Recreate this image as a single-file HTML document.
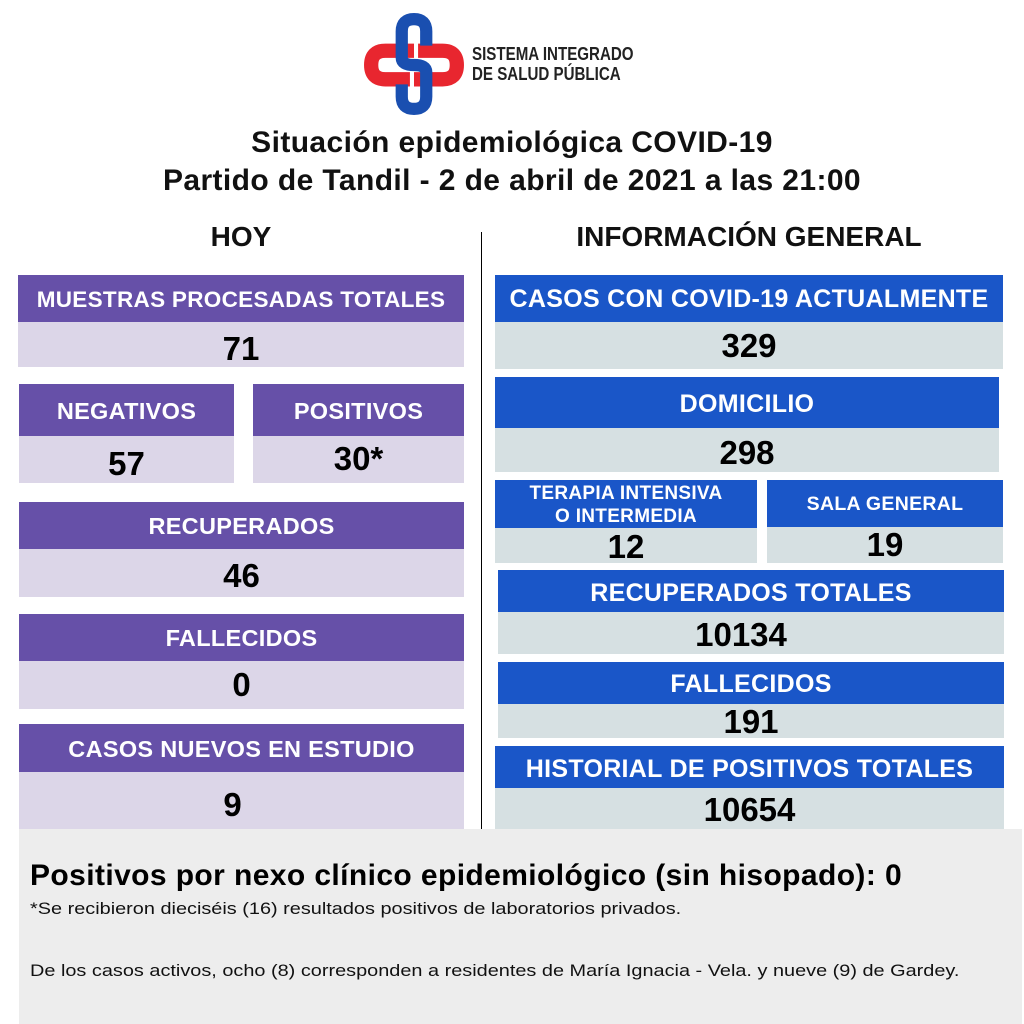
<!DOCTYPE html>
<html><head><meta charset="utf-8"><style>
body{margin:0;width:1024px;height:1024px;background:#fff;position:relative;overflow:hidden;font-family:"Liberation Sans",Arial,sans-serif;}
.a{position:absolute;box-sizing:border-box;text-align:center;font-weight:bold;white-space:nowrap;}
.ph{background:#6650a8;color:#fff;font-size:23.5px;letter-spacing:0.3px;}
.pv{background:#dcd6e8;color:#000;font-size:33px;}
.bh{background:#1a56c8;color:#fff;font-size:25px;letter-spacing:0.3px;}
.bv{background:#d6e0e2;color:#000;font-size:33px;}
.t{position:absolute;font-weight:bold;color:#111;white-space:nowrap;}
</style></head><body>
<svg style="position:absolute;left:362px;top:13px" width="104" height="102" viewBox="0 0 100 100">
<path d="M50 37 L22 37 Q8 37 8 51 Q8 65 22 65 L46 65" fill="none" stroke="#e8262f" stroke-width="14"/>
<path d="M50 65 L78 65 Q92 65 92 51 Q92 37 78 37 L54 37" fill="none" stroke="#e8262f" stroke-width="14"/>
<path d="M62 32 L62 18 Q62 6 50 6 Q38 6 38 18 L38 44 Q38 51 50 51 Q62 51 62 58 L62 82 Q62 94 50 94 Q38 94 38 82 L38 70" fill="none" stroke="#1a4fb0" stroke-width="12"/>
</svg>
<div class="t" style="left:472px;top:44px;font-size:18px;line-height:20px;color:#222;transform:scaleX(0.84);transform-origin:left top">SISTEMA INTEGRADO<br>DE SALUD PÚBLICA</div>
<div class="t" style="left:0;width:1024px;text-align:center;top:124px;font-size:30px;line-height:38px;letter-spacing:0.4px">Situación epidemiológica COVID-19<br>Partido de Tandil - 2 de abril de 2021 a las 21:00</div>
<div class="t" style="left:18px;width:446px;text-align:center;top:221px;font-size:28px">HOY</div>
<div class="t" style="left:495px;width:508px;text-align:center;top:221px;font-size:28px">INFORMACIÓN GENERAL</div>
<div style="position:absolute;left:481px;top:232px;width:1px;height:598px;background:#000"></div>

<div class="a ph" style="left:18px;top:275px;width:446px;height:47px;line-height:50px;font-size:22.5px">MUESTRAS PROCESADAS TOTALES</div>
<div class="a pv" style="left:18px;top:322px;width:446px;height:45px;line-height:54px">71</div>
<div class="a ph" style="left:19px;top:384px;width:215px;height:52px;line-height:54px">NEGATIVOS</div>
<div class="a pv" style="left:19px;top:436px;width:215px;height:47px;line-height:56px">57</div>
<div class="a ph" style="left:253px;top:384px;width:211px;height:52px;line-height:54px">POSITIVOS</div>
<div class="a pv" style="left:253px;top:436px;width:211px;height:47px;line-height:46px">30*</div>
<div class="a ph" style="left:19px;top:502px;width:445px;height:47px;line-height:49px">RECUPERADOS</div>
<div class="a pv" style="left:19px;top:549px;width:445px;height:48px;line-height:54px">46</div>
<div class="a ph" style="left:19px;top:614px;width:445px;height:47px;line-height:49px">FALLECIDOS</div>
<div class="a pv" style="left:19px;top:661px;width:445px;height:48px;line-height:48px">0</div>
<div class="a ph" style="left:19px;top:724px;width:445px;height:48px;line-height:50px">CASOS NUEVOS EN ESTUDIO</div>
<div class="a pv" style="left:19px;top:772px;width:445px;height:58px;line-height:66px;padding-right:18px">9</div>

<div class="a bh" style="left:495px;top:275px;width:508px;height:47px;line-height:49px">CASOS CON COVID-19 ACTUALMENTE</div>
<div class="a bv" style="left:495px;top:322px;width:508px;height:47px;line-height:48px">329</div>
<div class="a bh" style="left:495px;top:377px;width:504px;height:51px;line-height:54px">DOMICILIO</div>
<div class="a bv" style="left:495px;top:428px;width:504px;height:44px;line-height:50px">298</div>
<div class="a bh" style="left:495px;top:480px;width:262px;height:48px;line-height:23px;font-size:19px;padding-top:2px">TERAPIA INTENSIVA<br>O INTERMEDIA</div>
<div class="a bv" style="left:495px;top:528px;width:262px;height:35px;line-height:38px">12</div>
<div class="a bh" style="left:767px;top:480px;width:236px;height:47px;line-height:48px;font-size:19.5px">SALA GENERAL</div>
<div class="a bv" style="left:767px;top:527px;width:236px;height:36px;line-height:36px">19</div>
<div class="a bh" style="left:498px;top:570px;width:506px;height:42px;line-height:46px">RECUPERADOS TOTALES</div>
<div class="a bv" style="left:498px;top:612px;width:506px;height:42px;line-height:46px;padding-right:20px">10134</div>
<div class="a bh" style="left:498px;top:662px;width:506px;height:42px;line-height:44px">FALLECIDOS</div>
<div class="a bv" style="left:498px;top:704px;width:506px;height:34px;line-height:36px">191</div>
<div class="a bh" style="left:495px;top:746px;width:509px;height:42px;line-height:46px">HISTORIAL DE POSITIVOS TOTALES</div>
<div class="a bv" style="left:495px;top:788px;width:509px;height:42px;line-height:44px">10654</div>

<div style="position:absolute;left:19px;top:829px;width:1003px;height:195px;background:#ededed"></div>
<div class="t" style="left:30px;top:859px;font-size:30px;color:#000;letter-spacing:0.4px">Positivos por nexo clínico epidemiológico (sin hisopado): 0</div>
<div style="position:absolute;left:30px;top:899px;font-size:17px;color:#111;white-space:nowrap;transform:scaleX(1.17);transform-origin:left top">*Se recibieron dieciséis (16) resultados positivos de laboratorios privados.</div>
<div style="position:absolute;left:30px;top:961px;font-size:17px;color:#111;white-space:nowrap;transform:scaleX(1.17);transform-origin:left top">De los casos activos, ocho (8) corresponden a residentes de María Ignacia - Vela. y nueve (9) de Gardey.</div>
</body></html>
